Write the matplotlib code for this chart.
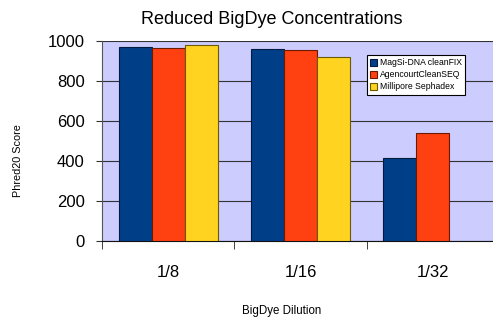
import matplotlib
matplotlib.use('Agg')
import matplotlib.pyplot as plt
import numpy as np

plt.rcParams['font.family'] = ['Liberation Sans', 'DejaVu Sans']

dilutions = ['1/8', '1/16', '1/32']
magsi = [971, 962, 415]
agencourt = [967, 953, 538]
millipore = [980, 922, 0]
series = ['MagSi-DNA cleanFIX', 'AgencourtCleanSEQ', 'Millipore Sephadex']
colors = ['#003F87', '#FF4010', '#FFD320']
edges = ['#001a40', '#6a1a00', '#6a5a00']

fig = plt.figure(figsize=(4.93, 3.2), dpi=100)
ax = fig.add_axes([102 / 493, 1 - 241 / 320, 397 / 493, 200 / 320])
ax.set_facecolor('#CCCCFF')

x = np.arange(len(dilutions))
w = 0.25
for i, vals in enumerate([magsi, agencourt, millipore]):
    v = np.array(vals, dtype=float)
    ok = v > 0
    ax.bar(x[ok] + (i - 1) * w, v[ok], w, color=colors[i], edgecolor=edges[i],
           linewidth=0.8, label=series[i], zorder=3)

ax.set_ylim(0, 1000)
ax.set_xlim(-0.5, 2.5)
ax.set_yticks(range(0, 1001, 200))
ax.yaxis.grid(True, color='#333333', linewidth=0.8, zorder=0)
ax.set_xticks(x)
ax.set_xticklabels(dilutions)
ax.set_xticks([-0.5, 0.5, 1.5, 2.5], minor=True)
ax.tick_params(axis='x', which='major', length=0, labelsize=12, pad=17)
ax.tick_params(axis='x', which='minor', length=6, color='#222222')
ax.tick_params(axis='y', length=4, labelsize=12, color='#333333', pad=8.5)
for s in ['top', 'right']:
    ax.spines[s].set_visible(False)
ax.spines['left'].set_color('#555555')
ax.spines['bottom'].set_color('#111111')

fig.text(18 / 493, 1 - 161 / 320, 'Phred20 Score', fontsize=7.8,
         rotation=90, ha='center', va='center')
fig.text(282 / 493, 1 - 311 / 320, 'BigDye Dilution', fontsize=8.3,
         ha='center', va='center')
fig.text(272 / 493, 1 - 19 / 320, 'Reduced BigDye Concentrations', fontsize=13,
         ha='center', va='center')

leg = ax.legend(loc='upper left', bbox_to_anchor=(265 / 397, 1 - 14 / 200),
                fontsize=6.2, frameon=True, fancybox=False, borderpad=0.4,
                handlelength=0.8, handleheight=0.8, handletextpad=0.3,
                labelspacing=0.35, borderaxespad=0)
leg.get_frame().set_edgecolor('black')
leg.get_frame().set_linewidth(0.8)
leg.get_frame().set_facecolor('white')
leg.get_frame().set_alpha(1)

fig.savefig('out.png', dpi=100)
